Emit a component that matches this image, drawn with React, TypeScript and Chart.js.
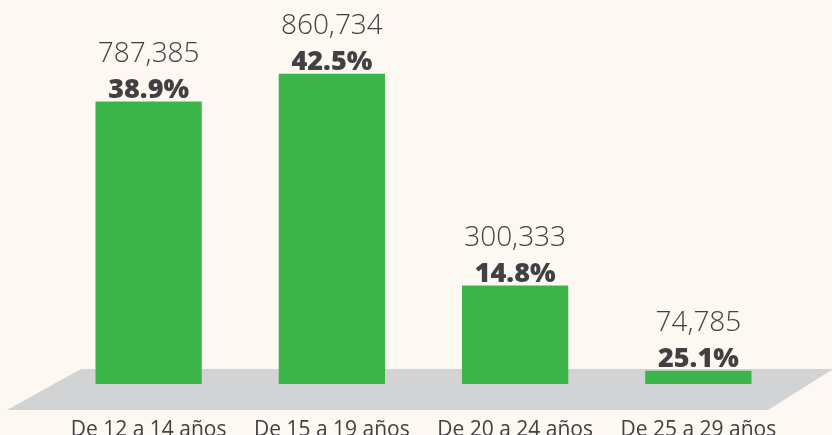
import React, { useEffect, useRef } from "react";
import { Chart, registerables } from "chart.js";

Chart.register(...registerables);

const categories = ["De 12 a 14 años", "De 15 a 19 años", "De 20 a 24 años", "De 25 a 29 años"];
const values = [787385, 860734, 300333, 74785];
const percentLabels = ["38.9%", "42.5%", "14.8%", "25.1%"];

const BG = "#FDF9F2";
const GREEN = "#3BB54A";
const FLOOR = "#D1D3D4";
const TEXT = "#414042";

const floorPlugin = {
  id: "floor",
  beforeDatasetsDraw(chart: any) {
    const { ctx, chartArea } = chart;
    const { left, right, bottom } = chartArea;
    ctx.save();
    ctx.fillStyle = FLOOR;
    ctx.beginPath();
    ctx.moveTo(left + 24, bottom - 15);
    ctx.lineTo(right + 43, bottom - 15);
    ctx.lineTo(right - 22, bottom + 26);
    ctx.lineTo(left - 50, bottom + 26);
    ctx.closePath();
    ctx.fill();
    ctx.restore();
  },
};

const labelPlugin = {
  id: "barLabels",
  afterDatasetsDraw(chart: any) {
    const { ctx } = chart;
    const meta = chart.getDatasetMeta(0);
    ctx.save();
    ctx.textAlign = "center";
    ctx.textBaseline = "alphabetic";
    ctx.fillStyle = TEXT;
    meta.data.forEach((bar: any, i: number) => {
      const x = bar.x;
      const y = bar.y;
      ctx.font = "800 27px 'Open Sans', sans-serif";
      ctx.fillText(percentLabels[i], x, y - 4);
      ctx.font = "300 28px 'Open Sans', sans-serif";
      ctx.fillText(values[i].toLocaleString("en-US"), x, y - 40);
    });
    ctx.restore();
  },
};

export default function App() {
  const ref = useRef<HTMLCanvasElement>(null);
  useEffect(() => {
    document.body.style.margin = "0";
    document.body.style.background = BG;
    const chart = new Chart(ref.current!, {
      type: "bar",
      data: {
        labels: categories,
        datasets: [
          {
            data: values,
            backgroundColor: GREEN,
            borderWidth: 0,
            barPercentage: 0.58,
            categoryPercentage: 1,
          },
        ],
      },
      options: {
        animation: false,
        responsive: false,
        layout: { padding: { left: 57, right: 42, top: 0, bottom: 0 } },
        plugins: { legend: { display: false }, tooltip: { enabled: false } },
        scales: {
          x: {
            grid: { display: false, drawTicks: false },
            border: { display: false },
            afterFit(scale: any) {
              scale.height = 51;
            },
            ticks: {
              color: TEXT,
              padding: 33,
              font: { family: "'Open Sans', sans-serif", size: 21 },
              maxRotation: 0,
              autoSkip: false,
            },
          },
          y: {
            display: false,
            min: 40000,
            max: 1056000,
          },
        },
      },
      plugins: [floorPlugin, labelPlugin],
    });
    return () => chart.destroy();
  }, []);
  return (
    <div style={{ width: 832, height: 435, background: BG }}>
      <canvas ref={ref} width={832} height={435} />
    </div>
  );
}
